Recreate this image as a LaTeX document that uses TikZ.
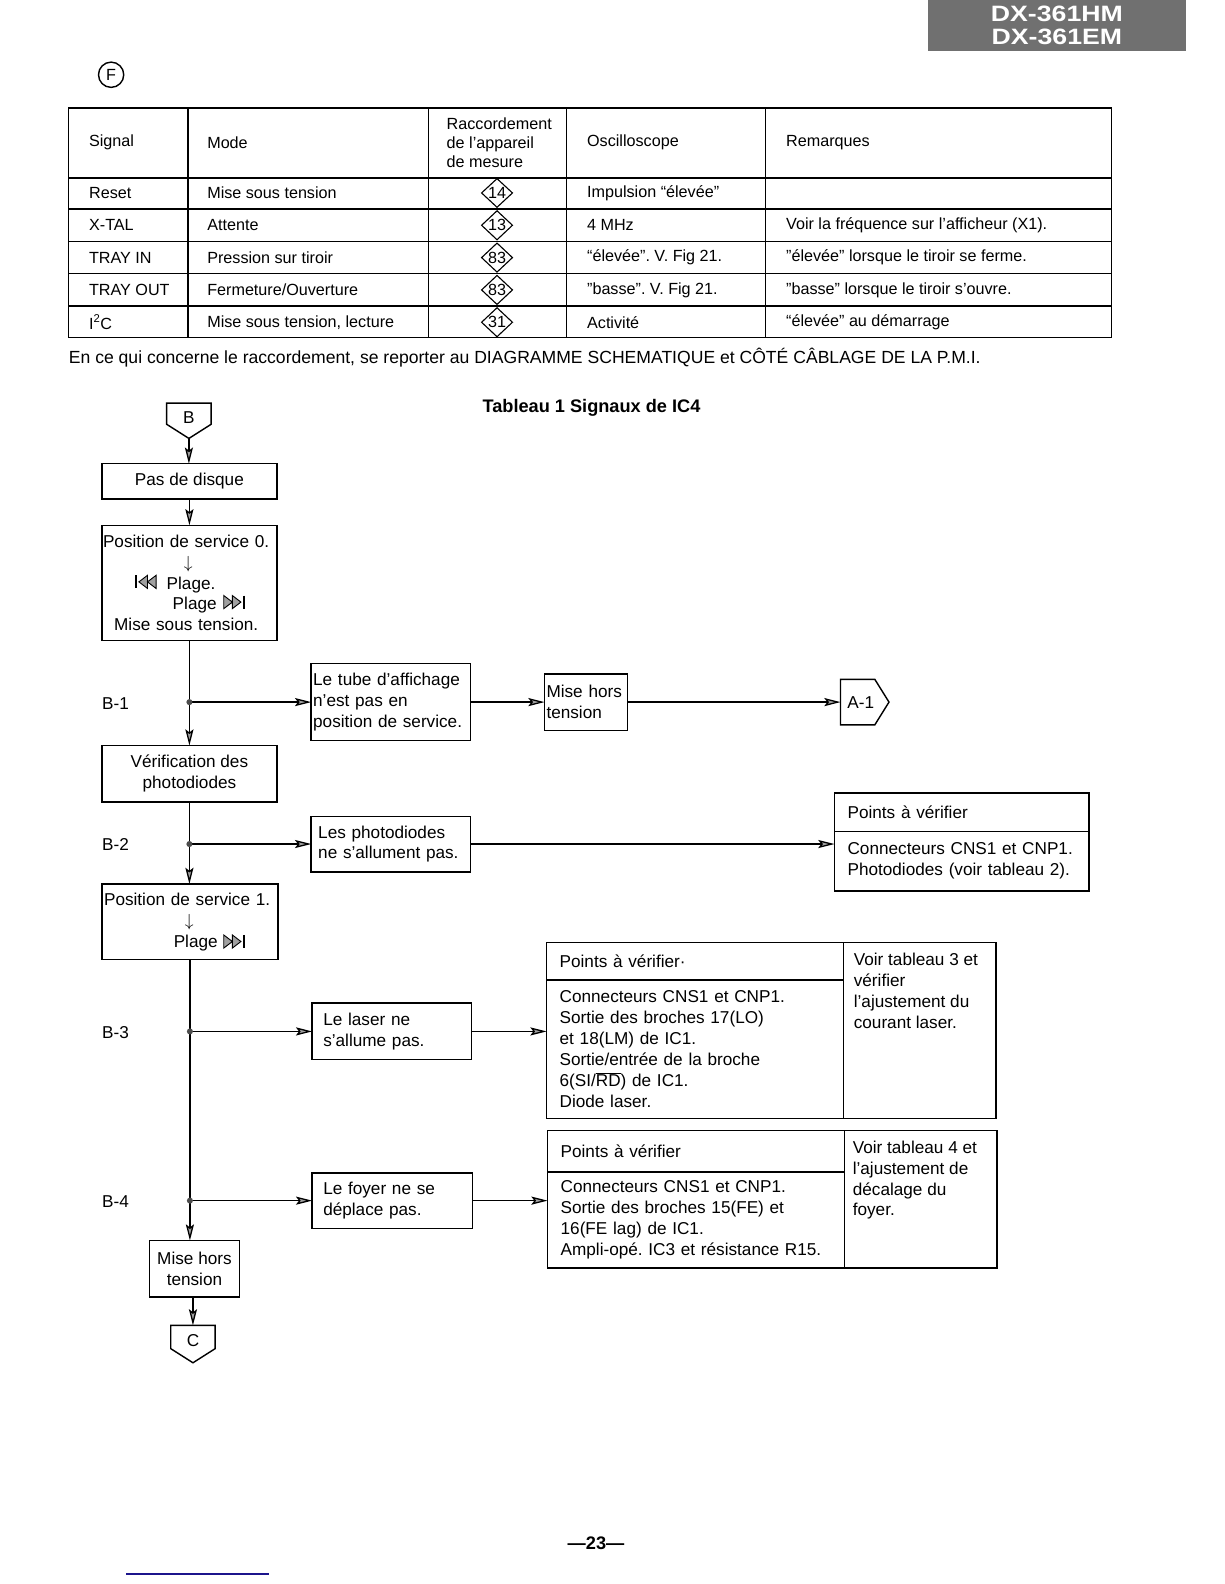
\documentclass[tikz,border=0pt]{standalone}
\usepackage{fontspec}
\setmainfont{Liberation Sans}
\usetikzlibrary{arrows.meta,positioning,calc,shapes.geometric}
\definecolor{hdrgray}{RGB}{112,112,112}
\definecolor{tipgray}{RGB}{160,160,160}
\definecolor{rulenavy}{RGB}{28,20,140}

\newcommand{\tabfont}{\fontsize{16}{19}\selectfont}
\newcommand{\notefont}{\fontsize{17.4}{19}\selectfont}
\newcommand{\pinfont}{\fontsize{16}{16}\selectfont}
\newcommand{\flowfont}{\fontsize{17}{20.7}\selectfont}

\tikzset{
  ffwd/.pic={
    \filldraw[fill=tipgray, line width=0.9pt] (-11.5,-6.5) -- (-3,0) -- (-11.5,6.5) -- cycle
      (-3,-6.5) -- (5.5,0) -- (-3,6.5) -- cycle;
    \draw[line width=2pt] (8.5,-6.5) -- (8.5,6.5);
  }
}

\begin{document}
\frenchspacing
\begin{tikzpicture}[x=1pt, y=-1pt,
    box/.style={draw, line width=1.4pt, outer sep=0pt, inner sep=0pt, font=\flowfont, align=center},
    lbox/.style={draw, line width=1.4pt, outer sep=0pt, inner ysep=0pt, font=\flowfont, align=left},
    conn/.style={inner sep=0pt, outer sep=0pt, font=\flowfont},
    connline/.style={line width=1.4pt, line join=miter},
    arr/.style={-{Stealth[length=16pt, width=8pt, inset=3pt, fill=tipgray]}, line width=1.3pt},
    wire/.style={line width=1.3pt},
    tline/.style={line width=1.4pt},
    ttext/.style={anchor=west, inner sep=0pt, font=\tabfont},
    pinbox/.style={draw, diamond, line width=1.1pt, inner sep=0pt, minimum width=31pt, minimum height=28pt, font=\pinfont},
    lbl/.style={anchor=west, inner sep=0pt, font=\flowfont},
    jdot/.style={fill=black!70}
  ]
  \useasboundingbox (0,0) rectangle (1212,1568);

  % page header
  \node[fill=hdrgray, anchor=north west, minimum width=256pt, minimum height=50pt, inner sep=0pt,
        text=white, align=center, font=\fontsize{22}{22}\selectfont\bfseries] (model) at (918,0)
    {\scalebox{1.2}[1]{DX-361HM}\\\scalebox{1.2}[1]{DX-361EM}};
  \node[draw, circle, line width=1.4pt, minimum size=25pt, inner sep=0pt, font=\fontsize{16}{16}\selectfont] (figF) at (110,74) {F};

  % table 1
  \draw[tline] (68,107) rectangle (1100,334);
  \foreach \y in {176,207,239,271,303}
    \draw[tline] (68,\y) -- (1100,\y);
  \foreach \x in {186,424,561,758}
    \draw[tline] (\x,107) -- (\x,334);
  \node[ttext] (hsig) at (88,141) {Signal};
  \node[ttext] (hmode) at (205,141) {Mode};
  \node[ttext, align=left] (hpin) at (442,141) {Raccordement\\de l'appareil\\de mesure};
  \node[ttext] (hosc) at (581,141) {Oscilloscope};
  \node[ttext] (hrem) at (778,141) {Remarques};
  \foreach \y/\sig/\mode/\pn/\osc/\rem [count=\i] in {
      191/Reset/Mise sous tension/14/{Impulsion “élevée”}/{},
      223/X-TAL/Attente/13/4 MHz/{Voir la fréquence sur l'afficheur (X1).},
      255/TRAY IN/Pression sur tiroir/83/{“élevée”. V. Fig 21.}/{”élevée” lorsque le tiroir se ferme.},
      287/TRAY OUT/{Fermeture/Ouverture}/83/{”basse”. V. Fig 21.}/{”basse” lorsque le tiroir s'ouvre.},
      319/{I\textsuperscript{2}C}/{Mise sous tension, lecture}/31/Activité/{“élevée” au démarrage}} {
    \node[ttext] (sig\i) at (88,\y) {\sig};
    \node[ttext] (mode\i) at (205,\y) {\mode};
    \node[pinbox] (pn\i) at (492,\y) {\pn};
    \node[ttext] (osc\i) at (581,\y) {\osc};
    \node[ttext] (rem\i) at (778,\y) {\rem};
  }
  \node[ttext, font=\notefont] (note) at (68,354) {En ce qui concerne le raccordement, se reporter au DIAGRAMME SCHEMATIQUE et CÔTÉ CÂBLAGE DE LA P.M.I.};
  \node[font=\fontsize{18}{18}\selectfont\bfseries] (title) at (585.5,404) {Tableau 1 Signaux de IC4};

  % flow chart
  \node[conn, anchor=north, minimum width=44pt, minimum height=28pt] (B) at (187,399) {B};
  \coordinate (Btip) at ([yshift=-7pt]B.south);
  \draw[connline] (B.north west) -- (B.north east) -- ([yshift=7pt]B.south east) -- (Btip)
    -- ([yshift=7pt]B.south west) -- cycle;
  \node[box, minimum width=173pt, minimum height=35pt] (pas) at (187.5,476.5) {Pas de disque};
  \node[lbox, inner xsep=1pt, text width=171pt, minimum height=114pt] (pos0) at (187.5,577)
    {Position de service 0.\\\hspace*{80pt}$\downarrow$\\\hspace*{63pt}Plage.\\\hspace*{69pt}Plage\\\hspace*{11pt}Mise sous tension.};
  \pic[xscale=-1] at ([shift={(42,56)}]pos0.north west) {ffwd};
  \pic at ([shift={(132,76)}]pos0.north west) {ffwd};
  \node[box, minimum width=173pt, minimum height=56pt] (ver) at (187.5,766) {Vérification des\\photodiodes};
  \node[lbox, inner xsep=2pt, text width=170pt, minimum height=75pt] (pos1) at (188,912.5)
    {Position de service 1.\\\hspace*{80pt}$\downarrow$\\\hspace*{69pt}Plage};
  \pic at ([shift={(132,57)}]pos1.north west) {ffwd};
  \node[box, minimum width=89pt, minimum height=56pt] (off) at (192.5,1256) {Mise hors\\tension};
  \node[conn, anchor=north, minimum width=44pt, minimum height=30pt] (C) at (191,1312) {C};
  \coordinate (Ctip) at ([yshift=-7pt]C.south);
  \draw[connline] (C.north west) -- (C.north east) -- ([yshift=7pt]C.south east) -- (Ctip)
    -- ([yshift=7pt]C.south west) -- cycle;

  % B-1
  \node[lbl] (b1) at (101,696) {B-1};
  \node[lbox, inner xsep=2pt, text width=154pt, minimum height=76pt] (tube) at (387,695)
    {Le tube d'affichage\\n'est pas en\\position de service.};
  \node[lbox, inner xsep=2pt, text width=78pt, minimum height=56pt] (mise) at (580,695) {Mise hors\\tension};
  \node[conn, anchor=west, minimum width=40pt, minimum height=45pt] (A1) at (832,695) {A-1};
  \coordinate (A1tip) at ([xshift=8pt]A1.east);
  \draw[connline] (A1.north west) -- ([xshift=-6pt]A1.north east) -- (A1tip)
    -- ([xshift=-6pt]A1.south east) -- (A1.south west) -- cycle;

  % B-2
  \node[lbl] (b2) at (101,836) {B-2};
  \node[lbox, inner xsep=7pt, text width=144pt, minimum height=55pt] (phot) at (387,835.5)
    {Les photodiodes\\ne s'allument pas.};
  \node[lbox, inner xsep=13pt, text width=226pt, minimum height=38pt] (head2) at (952,804) {Points à vérifier};
  \node[lbox, inner xsep=13pt, text width=226pt, minimum height=59pt, below=0pt of head2] (body2)
    {Connecteurs CNS1 et CNP1.\\Photodiodes (voir tableau 2).};

  % B-3
  \node[lbl] (b3) at (101,1022) {B-3};
  \node[lbox, inner xsep=11pt, text width=136pt, minimum height=56pt] (laser) at (388,1021)
    {Le laser ne\\s'allume pas.};
  \node[lbox, inner xsep=13pt, text width=268pt, minimum height=37pt] (head3) at (688,951.5) {Points à vérifier·};
  \node[lbox, inner xsep=13pt, text width=268pt, minimum height=137pt, below=0pt of head3] (body3)
    {Connecteurs CNS1 et CNP1.\\Sortie des broches 17(LO)\\et 18(LM) de IC1.\\Sortie/entrée de la broche\\6(SI/$\overline{\mbox{RD}}$) de IC1.\\Diode laser.};
  \node[draw, line width=1.4pt, outer sep=0pt, anchor=north west, minimum width=151pt, minimum height=174pt] (side3) at (head3.north east) {};
  \node[lbl, anchor=north west, align=left] (side3txt) at ([shift={(10,10)}]side3.north west)
    {Voir tableau 3 et\\vérifier\\l'ajustement du\\courant laser.};

  % B-4
  \node[lbl] (b4) at (101,1189) {B-4};
  \node[lbox, inner xsep=11pt, text width=137pt, minimum height=55pt] (foyer) at (388.5,1188.5)
    {Le foyer ne se\\déplace pas.};
  \node[lbox, inner xsep=13pt, text width=268pt, minimum height=41pt] (head4) at (689,1139.5) {Points à vérifier};
  \node[lbox, inner xsep=13pt, text width=268pt, minimum height=95pt, below=0pt of head4] (body4)
    {Connecteurs CNS1 et CNP1.\\Sortie des broches 15(FE) et\\16(FE lag) de IC1.\\Ampli-opé. IC3 et résistance R15.};
  \node[draw, line width=1.4pt, outer sep=0pt, anchor=north west, minimum width=151pt, minimum height=136pt] (side4) at (head4.north east) {};
  \node[lbl, anchor=north west, align=left] (side4txt) at ([shift={(8,10)}]side4.north west)
    {Voir tableau 4 et\\l'ajustement de\\décalage du\\foyer.};

  % junctions
  \coordinate (j1) at (pos0.south |- tube.west);
  \coordinate (j2) at (ver.south |- phot.west);
  \coordinate (j3) at (pos1.south |- laser.west);
  \coordinate (j4) at (pos1.south |- foyer.west);

  % connectors
  \draw[arr] (Btip) -- (Btip |- pas.north);
  \draw[arr] (pas.south) -- (pos0.north);
  \draw[wire] (pos0.south) -- (j1);
  \draw[arr] (j1) -- (ver.north);
  \draw[arr] (j1) -- (tube.west);
  \draw[arr] (tube.east) -- (mise.west);
  \draw[arr] (mise.east) -- (A1.west);
  \draw[wire] (ver.south) -- (j2);
  \draw[arr] (j2) -- (j2 |- pos1.north);
  \draw[arr] (j2) -- (phot.west);
  \draw[arr] (phot.east) -- (phot.east -| body2.west);
  \draw[wire] (pos1.south) -- (j3) -- (j4);
  \draw[arr] (j3) -- (laser.west);
  \draw[arr] (laser.east) -- (laser.east -| body3.west);
  \draw[arr] (j4) -- (foyer.west);
  \draw[arr] (foyer.east) -- (foyer.east -| body4.west);
  \draw[arr] (j4) -- (j4 |- off.north);
  \draw[arr] (C.north |- off.south) -- (C.north);
  \foreach \j in {j1,j2,j3,j4}
    \fill[jdot] (\j) circle (3pt);

  % page number
  \node[font=\fontsize{18}{18}\selectfont\bfseries] (page) at (590,1528) {—23—};
  \draw[rulenavy, line width=2pt] (125,1558) -- (266,1558);
\end{tikzpicture}
\end{document}
